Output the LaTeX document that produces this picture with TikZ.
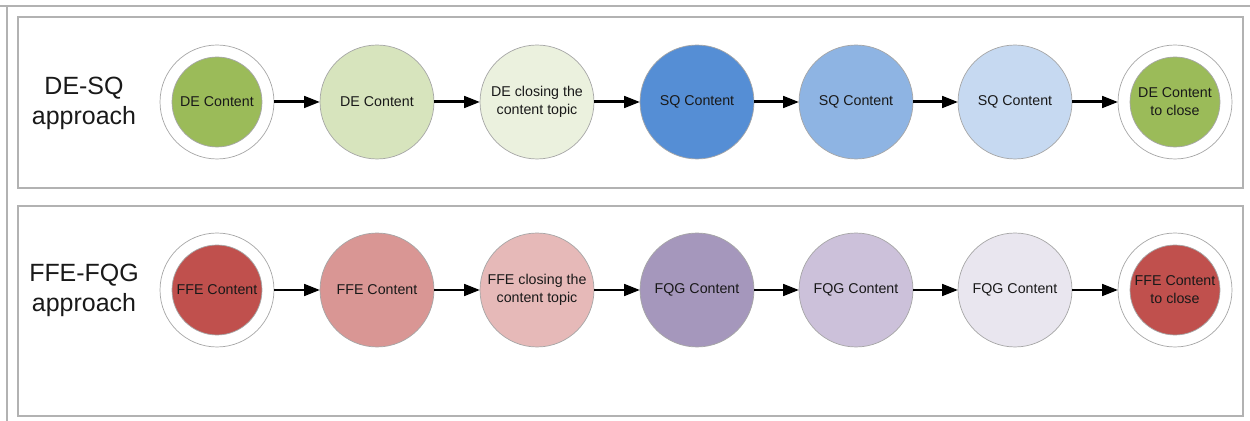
\documentclass[tikz,border=0pt]{standalone}
\usepackage{fontspec}
\setmainfont{Liberation Sans}
\usepackage{xcolor}
\usepackage{tikz}
\usetikzlibrary{arrows.meta}
\definecolor{deDark}{HTML}{9BBB59}
\definecolor{deMid}{HTML}{D7E4BD}
\definecolor{deLight}{HTML}{EBF1DE}
\definecolor{sqDark}{HTML}{558ED5}
\definecolor{sqMid}{HTML}{8EB4E3}
\definecolor{sqLight}{HTML}{C6D9F1}
\definecolor{ffeDark}{HTML}{C0504D}
\definecolor{ffeMid}{HTML}{D99694}
\definecolor{ffeLight}{HTML}{E6B9B8}
\definecolor{fqgDark}{HTML}{A597BC}
\definecolor{fqgMid}{HTML}{CCC1DA}
\definecolor{fqgLight}{HTML}{E9E6EF}

\begin{document}
\begin{tikzpicture}[x=0.02cm, y=-0.02cm,
  stage/.style={circle, draw=gray!70, line width=0.4pt, minimum size=2.28cm, inner sep=0pt, outer sep=0pt,
    align=center, font=\fontsize{8.1}{10.2}\selectfont, text=black!90},
  ring/.style={circle, draw=gray!70, line width=0.4pt, fill=white, minimum size=2.28cm, outer sep=0pt},
  core/.style={stage, minimum size=1.8cm},
  flow/.style={-{Triangle[length=9pt, width=6.5pt]}, line width=1.7pt},
  panel/.style={draw=gray!60, line width=0.6pt},
  approach/.style={font=\fontsize{14.2}{17}\selectfont, align=center, text=black!90}]
  \useasboundingbox (0,0) rectangle (1250,421);

  % Outer frame lines
  \draw[panel] (0,6) -- (1250,6);
  \draw[panel] (7,6) -- (7,421);

  % Panels
  \draw[panel] (18,17) rectangle (1243,188);
  \draw[panel] (18,206) rectangle (1243,416);

  % === ROW 1: DE-SQ ===
  \node[approach] (deLabel) at (84,103) {DE-SQ\\approach};

  \node[ring] (de1ring) at (217,102) {};
  \node[core, fill=deDark] (de1) at (217,102) {DE Content};
  \node[stage, fill=deMid] (de2) at (377,102) {DE Content};
  \node[stage, fill=deLight] (de3) at (537,102) {DE closing the\\content topic};
  \node[stage, fill=sqDark] (sq1) at (697,102) {SQ Content};
  \node[stage, fill=sqMid] (sq2) at (856,102) {SQ Content};
  \node[stage, fill=sqLight] (sq3) at (1015,102) {SQ Content};
  \node[ring] (de4ring) at (1175,102) {};
  \node[core, fill=deDark] (de4) at (1175,102) {DE Content\\to close};

  % === ROW 2: FFE-FQG ===
  \node[approach] (ffeLabel) at (84,290) {FFE-FQG\\approach};

  \node[ring] (ffe1ring) at (217,290) {};
  \node[core, fill=ffeDark] (ffe1) at (217,290) {FFE Content};
  \node[stage, fill=ffeMid] (ffe2) at (377,290) {FFE Content};
  \node[stage, fill=ffeLight] (ffe3) at (537,290) {FFE closing the\\content topic};
  \node[stage, fill=fqgDark] (fqg1) at (697,290) {FQG Content};
  \node[stage, fill=fqgMid] (fqg2) at (856,290) {FQG Content};
  \node[stage, fill=fqgLight] (fqg3) at (1015,290) {FQG Content};
  \node[ring] (ffe4ring) at (1175,290) {};
  \node[core, fill=ffeDark] (ffe4) at (1175,290) {FFE Content\\to close};

  % Arrows
  \foreach \a/\b in {de1ring/de2, de2/de3, de3/sq1, sq1/sq2, sq2/sq3, sq3/de4ring,
                     ffe1ring/ffe2, ffe2/ffe3, ffe3/fqg1, fqg1/fqg2, fqg2/fqg3, fqg3/ffe4ring} {
    \draw[flow] (\a) -- (\b);
  }
\end{tikzpicture}
\end{document}
